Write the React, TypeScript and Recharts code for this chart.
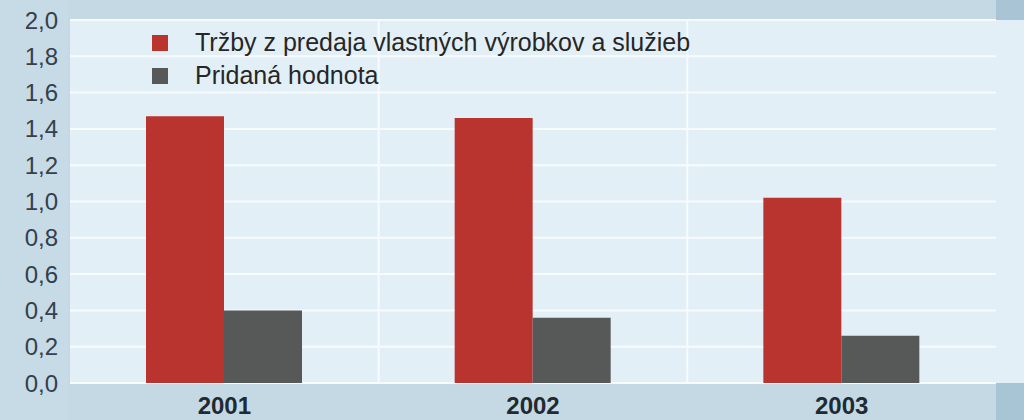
import React from 'react';
import { BarChart, Bar, XAxis, YAxis, CartesianGrid } from 'recharts';

const years = ['2001', '2002', '2003'];
const trzby = [1.47, 1.46, 1.02];
const pridana = [0.4, 0.36, 0.26];
const yTicks = [0, 0.2, 0.4, 0.6, 0.8, 1.0, 1.2, 1.4, 1.6, 1.8, 2.0];

const seriesNames = {
  trzby: 'Tržby z predaja vlastných výrobkov a služieb',
  pridana: 'Pridaná hodnota',
};

const RED = '#b9332f';
const GRAY = '#575858';
const FONT = '"Liberation Sans", Arial, sans-serif';

const data = years.map((year, i) => ({ year, trzby: trzby[i], pridana: pridana[i] }));

function LegendBox() {
  const items = [
    { label: seriesNames.trzby, color: RED },
    { label: seriesNames.pridana, color: GRAY },
  ];
  return (
    <div style={{ position: 'absolute', left: 152, top: 26, fontFamily: FONT }}>
      {items.map((it) => (
        <div key={it.label} style={{ display: 'flex', alignItems: 'center', height: 33 }}>
          <span style={{ width: 16, height: 16, background: it.color, display: 'inline-block', marginRight: 27 }} />
          <span style={{ fontSize: 25, color: '#262626', lineHeight: '33px' }}>{it.label}</span>
        </div>
      ))}
    </div>
  );
}

const fmt = (v: number) => v.toFixed(1).replace('.', ',');

export default function App() {
  const W = 1024;
  const H = 420;
  const plotLeft = 70;
  const plotTop = 20;
  const plotBottom = 383;
  const plotRight = 996;

  return (
    <div style={{ position: 'absolute', left: 0, top: 0, width: W, height: H, background: '#c4d9e4', overflow: 'hidden' }}>
      {/* light plot area background, runs to the right edge */}
      <div style={{ position: 'absolute', left: plotLeft, top: plotTop, width: W - plotLeft, height: plotBottom - plotTop, background: '#e2eff7' }} />
      {/* left strip */}
      <div style={{ position: 'absolute', left: 0, top: 0, width: 68, height: H, background: '#c6dbe5' }} />
      {/* darker corners on the right */}
      <div style={{ position: 'absolute', left: plotRight, top: 0, width: W - plotRight, height: plotTop, background: '#a9c5d5' }} />
      <div style={{ position: 'absolute', left: plotRight, top: plotBottom, width: W - plotRight, height: H - plotBottom, background: '#a8c5d5' }} />
      <div style={{ position: 'absolute', left: 0, top: 0 }}>
        <BarChart
          width={W}
          height={H}
          data={data}
          margin={{ top: plotTop, right: W - plotRight, bottom: 0, left: 0 }}
          barGap={0}
          barSize={78}
        >
          <CartesianGrid
            stroke="#f7fbfe"
            strokeWidth={2}
            verticalCoordinatesGenerator={({ offset }: any) =>
              years.slice(1).map((_, i) => offset.left + (offset.width * (i + 1)) / years.length)
            }
          />
          <XAxis
            dataKey="year"
            axisLine={false}
            tickLine={false}
            height={H - plotBottom}
            tickMargin={8}
            tick={{ fontSize: 24, fontWeight: 700, fill: '#1f2a33', fontFamily: FONT }}
          />
          <YAxis
            width={plotLeft}
            domain={[0, 2]}
            ticks={yTicks}
            interval={0}
            axisLine={false}
            tickLine={false}
            tickMargin={6}
            tickFormatter={fmt}
            tick={{ fontSize: 24, fill: '#34404a', fontFamily: FONT }}
          />
          <Bar dataKey="trzby" name={seriesNames.trzby} fill={RED} isAnimationActive={false} />
          <Bar dataKey="pridana" name={seriesNames.pridana} fill={GRAY} isAnimationActive={false} />
        </BarChart>
      </div>
      <LegendBox />
    </div>
  );
}
